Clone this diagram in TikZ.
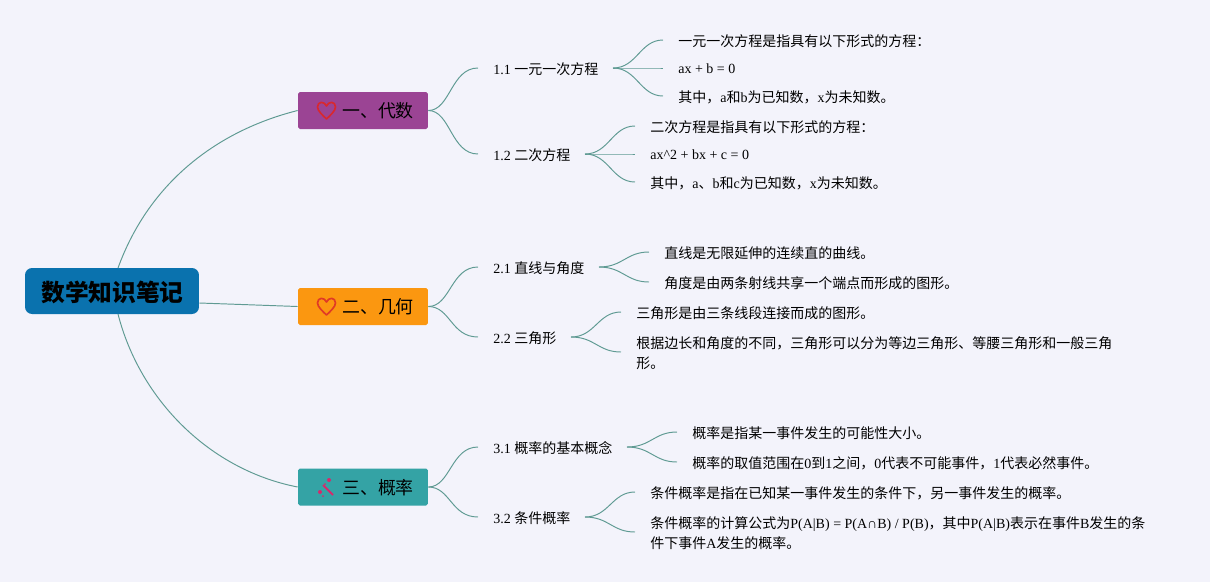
\documentclass[tikz,border=0pt]{standalone}
\usepackage{fontspec}
\usetikzlibrary{calc}
\setmainfont{Liberation Serif}
\newfontfamily\cjk{Noto Sans CJK SC}
\newcommand{\zh}[1]{{\cjk #1}}
\definecolor{pagebg}{HTML}{F3F3FB}
\definecolor{rootblue}{HTML}{0A72AE}
\definecolor{algpurple}{HTML}{9B4494}
\definecolor{geoorange}{HTML}{FB9710}
\definecolor{probteal}{HTML}{34A3A5}
\definecolor{edgegreen}{HTML}{5F9A93}
\definecolor{heartred}{HTML}{D8282F}
\definecolor{wandpink}{HTML}{D62A6C}
\tikzset{
  root/.style={fill=rootblue, rounded corners=4pt, minimum width=3.48cm, minimum height=0.92cm, inner sep=0pt, text height=13pt, text depth=1.6pt, font=\fontsize{13.5}{16}\selectfont\cjk\bfseries},
  topic/.style={fill=#1, rounded corners=1pt, minimum width=2.6cm, minimum height=0.74cm, inner sep=0pt, text height=9.8pt, text depth=1.5pt, font=\fontsize{10.2}{12}\selectfont},
  sub/.style={anchor=west, inner sep=0pt, font=\fontsize{7.97}{9}\selectfont},
  leaf/.style={anchor=west, inner sep=0pt, align=left, font=\fontsize{7.97}{11.4}\selectfont},
  link/.style={edgegreen, line width=0.55pt},
  heart/.style={line width=0.95pt, line join=round},
}
\newcommand{\heartat}[2]{%
  \draw[heart, #2, shift={(#1)}] (0,-4) .. controls (-2,-9) and (-9,-9) .. (-9,-3)
    .. controls (-9,1) and (-3,6) .. (0,9)
    .. controls (3,6) and (9,1) .. (9,-3)
    .. controls (9,-9) and (2,-9) .. cycle;}
\begin{document}
\begin{tikzpicture}[x=0.02cm, y=-0.02cm]
    \fill[pagebg] (0,0) rectangle (1210,582);
    \useasboundingbox (0,0) rectangle (1210,582);

    % Root
    \node[root] (math) at (112,291) {\hspace{0.6pt}数学知识笔记};

    % Topics
    \node[topic=algpurple] (alg) at (363,110.5) {\hspace{0.6cm}\zh{一、代数}};
    \node[topic=geoorange] (geo) at (363,306.5) {\hspace{0.6cm}\zh{二、几何}};
    \node[topic=probteal] (prob) at (363,487) {\hspace{0.6cm}\zh{三、概率}};
    \coordinate (heartone) at (326.5,110);
    \coordinate (hearttwo) at (326.5,306);
    \heartat{heartone}{draw=heartred}
    \heartat{hearttwo}{draw=heartred!80!orange}

    % Wand on the third topic
    \coordinate (wand) at (326,487);
    \draw[wandpink, line width=1.1pt] (wand) ++(-3,-2) -- ++(10,10);
    \fill[wandpink] (wand) ++(-6,5) circle (2);
    \fill[wandpink] (wand) ++(3,-7) circle (2);
    \fill[wandpink] (wand) ++(-1,-3) circle (1);
    \fill[wandpink] (wand) ++(-3,9) circle (1);

    % Subtopics
    \node[sub] (s11) at (493,69) {1.1 \zh{一元一次方程}};
    \node[sub] (s12) at (493,155) {1.2 \zh{二次方程}};
    \node[sub] (s21) at (493,268) {2.1 \zh{直线与角度}};
    \node[sub] (s22) at (493,338) {2.2 \zh{三角形}};
    \node[sub] (s31) at (493,448) {3.1 \zh{概率的基本概念}};
    \node[sub] (s32) at (493,518) {3.2 \zh{条件概率}};

    % Leaves
    \node[leaf] (l111) at (678,41) {\zh{一元一次方程是指具有以下形式的方程：}};
    \node[leaf] (l112) at (678,69) {ax + b = 0};
    \node[leaf] (l113) at (678,97) {\zh{其中，}a\zh{和}b\zh{为已知数，}x\zh{为未知数。}};
    \node[leaf] (l121) at (650,127) {\zh{二次方程是指具有以下形式的方程：}};
    \node[leaf] (l122) at (650,155) {ax\textasciicircum 2 + bx + c = 0};
    \node[leaf] (l123) at (650,183) {\zh{其中，}a\zh{、}b\zh{和}c\zh{为已知数，}x\zh{为未知数。}};
    \node[leaf] (l211) at (664,253) {\zh{直线是无限延伸的连续直的曲线。}};
    \node[leaf] (l212) at (664,283) {\zh{角度是由两条射线共享一个端点而形成的图形。}};
    \node[leaf] (l221) at (636,313) {\zh{三角形是由三条线段连接而成的图形。}};
    \node[leaf] (l222) at (636,353) {\zh{根据边长和角度的不同，三角形可以分为等边三角形、等腰三角形和一般三角}\\\zh{形。}};
    \node[leaf] (l311) at (692,433) {\zh{概率是指某一事件发生的可能性大小。}};
    \node[leaf] (l312) at (692,463) {\zh{概率的取值范围在}0\zh{到}1\zh{之间，}0\zh{代表不可能事件，}1\zh{代表必然事件。}};
    \node[leaf] (l321) at (650,493) {\zh{条件概率是指在已知某一事件发生的条件下，另一事件发生的概率。}};
    \node[leaf] (l322) at (650,533) {\zh{条件概率的计算公式为}P(A|B) = P(A∩B) / P(B)\zh{，其中}P(A|B)\zh{表示在事件}B\zh{发生的条}\\\zh{件下事件}A\zh{发生的概率。}};

    % Root edges
    \draw[link] (118,268) .. controls (150,180) and (220,130) .. (alg.west);
    \draw[link] (math.east) ++(0,12) -- (geo.west);
    \draw[link] (118,314) .. controls (140,400) and (210,470) .. (prob.west);

    % Topic edges
    \foreach \t/\s in {alg/s11, alg/s12, geo/s21, geo/s22, prob/s31, prob/s32}
      \draw[link] (\t.east) .. controls +(22,0) and ($(\s.west)+(-42,-1)$) .. ($(\s.west)+(-15,-1)$);

    % Leaf edges
    \foreach \s/\d/\l in {s11/120/l111, s11/120/l112, s11/120/l113,
                          s12/92/l121, s12/92/l122, s12/92/l123,
                          s21/106/l211, s21/106/l212,
                          s22/78/l221, s22/78/l222,
                          s31/134/l311, s31/134/l312,
                          s32/92/l321, s32/92/l322}
      \draw[link] ($(\s.west)+(\d,-1)$) .. controls +(24,0) and ($(\l.west)+(-38,-1)$) .. ($(\l.west)+(-15,-1)$);
\end{tikzpicture}
\end{document}
